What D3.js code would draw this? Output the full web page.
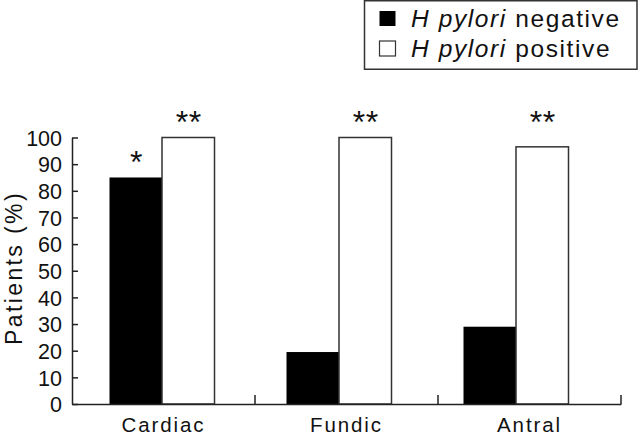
<!DOCTYPE html>
<html><head><meta charset="utf-8">
<script src="https://cdn.jsdelivr.net/npm/d3@7"></script>
<style>body{margin:0;background:#fff}svg{display:block;font-family:"Liberation Sans",Arial,Helvetica,sans-serif}</style>
</head><body>
<svg id="c" width="640" height="434"></svg>
<script>
const categories = ["Cardiac", "Fundic", "Antral"];
const seriesNames = ["H pylori negative", "H pylori positive"];
const negative = [85, 19.5, 29];
const positive = [100, 100, 96.5];
const negMarks = ["*", "", ""];
const posMarks = ["**", "**", "**"];
const yTicks = [0,10,20,30,40,50,60,70,80,90,100];

const svg = d3.select("#c");
const pLeft = 72, pRight = 621, pTop = 137.5, pBottom = 404;
const y = d3.scaleLinear().domain([0,100]).range([pBottom, pTop]);
const xBand = d3.scaleBand().domain(categories).range([pLeft, pRight]);
const xCenter = d3.scalePoint().domain(categories).range([162, 516]);
const barW = 52.5;

// bars
const g = svg.append("g");
categories.forEach((c,i)=>{
  const cx = xCenter(c);
  g.append("rect").attr("x", cx - barW).attr("y", y(negative[i]))
    .attr("width", barW).attr("height", y(0)-y(negative[i])).attr("fill","#000");
  g.append("rect").attr("x", cx).attr("y", y(positive[i]))
    .attr("width", barW).attr("height", y(0)-y(positive[i]))
    .attr("fill","#fff").attr("stroke","#333").attr("stroke-width",1.5);
  if (negMarks[i]) g.append("text").attr("x", cx - barW/2 + 0.5).attr("y", y(negative[i]) - 4)
    .attr("text-anchor","middle").attr("font-size",32).attr("fill","#111").text(negMarks[i]);
  if (posMarks[i]) g.append("text").attr("x", cx + barW/2 + 0.5).attr("y", y(100) - 5)
    .attr("text-anchor","middle").attr("font-size",32).attr("fill","#111").attr("letter-spacing",0.6).text(posMarks[i]);
});

// y axis
const ya = svg.append("g").attr("transform",`translate(${pLeft},0)`)
  .call(d3.axisLeft(y).tickValues(yTicks).tickSize(-6).tickPadding(10).tickSizeOuter(0));
ya.select(".domain").attr("stroke","#222").attr("stroke-width",1.5);
ya.selectAll(".tick line").attr("stroke","#222").attr("stroke-width",1.5);
ya.selectAll(".tick text").attr("font-size",21.5).attr("fill","#111").attr("font-family",null).attr("dy","0.36em");

// x axis
const xa = svg.append("g").attr("transform",`translate(0,${pBottom})`)
  .call(d3.axisBottom(xBand).tickSize(0).tickPadding(0).tickSizeOuter(0));
xa.select(".domain").attr("stroke","#222").attr("stroke-width",1.5);
xa.selectAll(".tick text").attr("font-size",20.5).attr("letter-spacing",1.9).attr("fill","#111")
  .attr("font-family",null).attr("y",27.5).attr("dy",0);
const bounds = categories.map(c => xBand(c) + xBand.bandwidth());
xa.selectAll(".btick").data(bounds).enter().append("line")
  .attr("x1",d=>d).attr("x2",d=>d).attr("y1",0).attr("y2",-9)
  .attr("stroke","#222").attr("stroke-width",1.5);

// y label
svg.append("text").attr("transform",`translate(22,268) rotate(-90)`)
  .attr("text-anchor","middle").attr("font-size",23).attr("letter-spacing",2.4).attr("fill","#111").text("Patients (%)");

// legend
const lg = svg.append("g");
lg.append("rect").attr("x",364.5).attr("y",0.75).attr("width",272.5).attr("height",68.5)
  .attr("fill","#fff").attr("stroke","#333").attr("stroke-width",1.5);
seriesNames.forEach((s,i)=>{
  const base = 26.7 + i*30;
  lg.append("rect").attr("x",379.5).attr("y",base-15.7).attr("width",16).attr("height",15)
    .attr("fill", i===0 ? "#000" : "#fff").attr("stroke", i===0 ? "none" : "#333").attr("stroke-width",1.2);
  const t = lg.append("text").attr("x",411).attr("y",base).attr("font-size",24.5)
    .attr("letter-spacing",1.6).attr("fill","#111");
  const parts = s.split(" ");
  t.append("tspan").attr("font-style","italic").text(parts[0] + " " + parts[1]);
  t.append("tspan").text(" " + parts[2]);
});
</script>
</body></html>
